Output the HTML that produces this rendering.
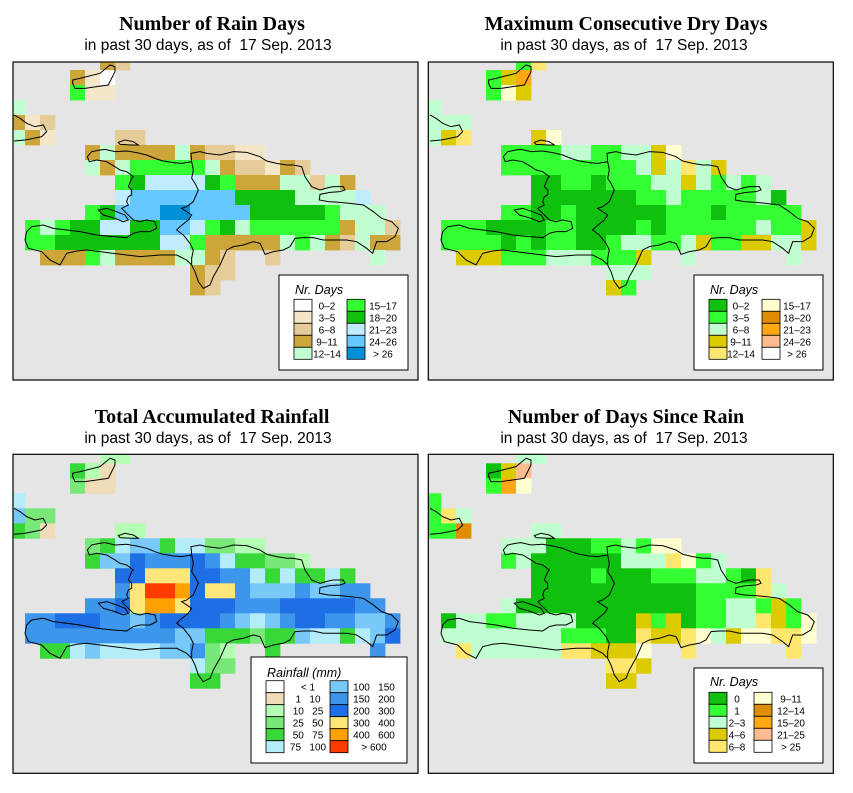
<!DOCTYPE html>
<html><head><meta charset="utf-8">
<style>
body{margin:0;background:#fff;}
svg{display:block;}
.t{font-family:"Liberation Serif",serif;font-weight:bold;font-size:20px;text-anchor:middle;}
.s{font-family:"Liberation Sans",sans-serif;font-size:15.5px;text-anchor:middle;white-space:pre;}
.lt{font-family:"Liberation Sans",sans-serif;font-style:italic;font-size:12.5px;}
.ll{font-family:"Liberation Sans",sans-serif;font-size:10px;}
</style></head>
<body>
<svg id="chart" width="853" height="793" viewBox="0 0 853 793" xmlns="http://www.w3.org/2000/svg">
<defs>
<clipPath id="c1"><rect x="13" y="62" width="405" height="318"/></clipPath>
<clipPath id="c2"><rect x="428.3" y="62" width="405" height="318"/></clipPath>
<clipPath id="c3"><rect x="13" y="454.3" width="405" height="319"/></clipPath>
<clipPath id="c4"><rect x="428.3" y="454.3" width="405" height="319"/></clipPath>
</defs>
<text class="t" x="212" y="30">Number of Rain Days</text>
<text class="s" x="208" y="50" xml:space="preserve">in past 30 days, as of  17 Sep. 2013</text>
<text class="t" x="626" y="30">Maximum Consecutive Dry Days</text>
<text class="s" x="624" y="50" xml:space="preserve">in past 30 days, as of  17 Sep. 2013</text>
<text class="t" x="212" y="423">Total Accumulated Rainfall</text>
<text class="s" x="208" y="443" xml:space="preserve">in past 30 days, as of  17 Sep. 2013</text>
<text class="t" x="626" y="423">Number of Days Since Rain</text>
<text class="s" x="624" y="443" xml:space="preserve">in past 30 days, as of  17 Sep. 2013</text>
<g id="panels"></g>
</svg>
<script>
const NS="http://www.w3.org/2000/svg";
// ---- data: class codes per grid row (columns c0..c25), '.' = no data ----
const rainDaysRows=["......32","....310","....511","4","312","431....22",".....343333432211",".....434555554322132",".......5677776533344243",".......78888888666644447",".....56888998888666665444",".5456677668875645555553442",".55666666677533333454324 33".replace(" ",""),"..33354333344 32..2......4".replace(" ",""),"............322","............32"];
const dryDaysRows=["......14","....137","....153","2","222","234....35",".....1111221122 35".replace(" ",""),".....111111111232423",".......0011011122321212",".......0000000112111112 0".replace(" ",""),".....11001000000111011111",".1110000110000101111112113",".1111010110012211231133223","..3331112221113..2......2","............222","............31"];
const rainfallRows=["......22","....421","....311","5","633","431....22",".....345664553322",".....466877787544332",".......8899988775454454",".......79bba899766676677",".....7789aa98887778888877",".7788877678888765678877667",".7777777777664443446554568","..4456555566732..4......7","............533","............44"];
const sinceRainRows=["......22","....038","....175","1","142","116....22",".....222000112155",".....120000002224512",".......0000100011122104",".......00000000000111142",".....20000000000001122131",".0221122220000313011224315",".2222222211100433452355445","..4222222443335..4......4","............443","............33"];
// ---- class labels ----
const rainDaysLabels=["0–2","3–5","6–8","9–11","12–14","15–17","18–20","21–23","24–26","> 26"];
const dryDaysLabels=["0–2","3–5","6–8","9–11","12–14","15–17","18–20","21–23","24–26","> 26"];
const rainfallLabels=["< 1","1   10","10   25","25   50","50   75","75   100","100   150","150   200","200   300","300   400","400   600","> 600"];
const sinceRainLabels=["0","1","2–3","4–6","6–8","9–11","12–14","15–20","21–25","> 25"];
const rainDaysColors=["#ffffff","#f5e6c8","#e6cc99","#cca638","#c0ffd0","#33ff33","#0fc00f","#c0ecff","#66c8ff","#0090d8"];
const dryDaysColors=["#0fc00f","#33ff33","#c0ffd0","#dccb00","#ffe66e","#ffffd0","#e08c00","#ffa814","#ffbc8c","#ffffff"];
const rainfallColors=["#ffffff","#f0dcb8","#b4ffb4","#78e878","#38d838","#b4ecf8","#78c8f8","#3c96ec","#1e6ee6","#ffe678","#ffa000","#ff3c00"];
const sinceRainColors=["#0fc00f","#33ff33","#c0ffd0","#dccb00","#ffe66e","#ffffd0","#e08c00","#ffa814","#ffbc8c","#ffffff"];

const coast="M262,305 L275,290 300,285 315,283 345,290 380,288 410,293 440,300 470,312 490,318 520,323 545,325 575,320 573,295 600,290 620,295 660,300 700,290 740,292 780,305 800,318 830,325 860,330 880,330 905,335 915,365 935,395 960,405 985,398 1000,395 1030,395 1035,405 1020,410 990,412 960,418 958,435 985,440 1020,442 1050,445 1090,450 1120,470 1145,490 1175,500 1195,520 1185,545 1160,560 1130,560 1118,595 1100,580 1070,560 1040,555 1000,555 970,555 940,548 910,548 885,550 870,575 850,585 820,590 795,598 785,575 780,565 760,560 730,570 700,575 680,585 660,630 640,665 630,690 610,700 595,680 585,650 575,630 560,615 530,600 480,600 420,605 380,600 340,595 300,590 260,585 230,588 200,595 180,630 150,615 125,590 85,580 75,555 80,530 95,515 130,510 160,520 200,525 240,530 290,540 340,545 380,548 400,535 420,530 450,530 470,520 465,500 440,495 420,500 400,495 385,480 365,460 385,450 380,440 385,425 395,420 395,405 385,395 395,370 400,365 380,350 360,345 345,335 320,320 290,315 268,320 Z "+
"M575,320 L580,345 575,370 585,385 595,405 580,440 560,455 545,460 560,470 575,480 565,495 540,515 530,525 550,540 570,565 580,585 575,610 575,630 "+
"M295,465 L320,460 350,470 375,480 385,495 370,500 345,490 310,480 Z "+
"M355,262 L375,255 400,260 415,270 395,270 360,268 Z "+
"M218,75 L240,70 260,65 300,55 330,30 345,35 345,50 335,70 325,90 290,95 255,100 225,100 218,85 Z "+
"M42,180 L60,190 80,205 105,215 130,210 140,230 125,245 100,250 75,255 42,258";

const panels=[
 {name:"rain-days",ox:0,oy:0,rows:rainDaysRows,colors:rainDaysColors,labels:rainDaysLabels,clip:"c1",fx:13,fy:62,
  leg:{x:279,y:275,w:129,h:95,title:"Nr. Days",tx:295,ty:294,sx:[294,347],sw:18,lx:[327,383],sy:299.3,n:5}},
 {name:"dry-days",ox:416,oy:0,rows:dryDaysRows,colors:dryDaysColors,labels:dryDaysLabels,clip:"c2",fx:428.3,fy:62,
  leg:{x:694,y:275,w:129,h:95,title:"Nr. Days",tx:710,ty:294,sx:[709,762],sw:18,lx:[741,797],sy:299.3,n:5}},
 {name:"rainfall",ox:0,oy:393.3,rows:rainfallRows,colors:rainfallColors,labels:rainfallLabels,clip:"c3",fx:13,fy:454.3,
  leg:{x:251,y:657,w:156,h:106,title:"Rainfall (mm)",tx:267,ty:677,sx:[266,330],sw:18,lx:[308,374],sy:680.7,n:6}},
 {name:"days-since-rain",ox:416,oy:393.3,rows:sinceRainRows,colors:sinceRainColors,labels:sinceRainLabels,clip:"c4",fx:428.3,fy:454.3,
  leg:{x:694,y:668,w:129,h:95,title:"Nr. Days",tx:710,ty:686,sx:[709,754],sw:18,lx:[737,791],sy:692.3,n:5}}
];
const CODES="0123456789ab";
function colX(p,c){return p.ox+10+15*c;}
function rowY(p,r){return p.oy+55+15*r;}
const root=document.getElementById("panels");
panels.forEach(p=>{
  const g=document.createElementNS(NS,"g");
  
  
  root.appendChild(g);
  const bg=document.createElementNS(NS,"rect");
  bg.setAttribute("x",p.fx);bg.setAttribute("y",p.fy);bg.setAttribute("width",405);bg.setAttribute("height",p.fy>400?319:318);
  bg.setAttribute("fill","#e5e5e5");
  
  
  g.appendChild(bg);
  const cg=document.createElementNS(NS,"g");
  cg.setAttribute("clip-path","url(#"+p.clip+")");
  
  
  g.appendChild(cg);
  p.rows.forEach((row,r)=>{
    for(let c=0;c<row.length;c++){
      const k=CODES.indexOf(row[c]);
      if(k<0)continue;
      const re=document.createElementNS(NS,"rect");
      re.setAttribute("x",colX(p,c));re.setAttribute("y",rowY(p,r));
      re.setAttribute("width",15.4);re.setAttribute("height",15.4);
      re.setAttribute("fill",p.colors[k]);
      
      
      cg.appendChild(re);
    }
  });
  const cp=document.createElementNS(NS,"path");
  cp.setAttribute("d",coast);cp.setAttribute("fill","none");cp.setAttribute("stroke","#000");
  cp.setAttribute("stroke-width","1");cp.setAttribute("vector-effect","non-scaling-stroke");
  cp.setAttribute("transform","translate("+p.ox+","+(p.oy+55)+") scale(0.33333)");
  
  
  cg.appendChild(cp);
  const fr=document.createElementNS(NS,"rect");
  fr.setAttribute("x",p.fx);fr.setAttribute("y",p.fy);fr.setAttribute("width",405);fr.setAttribute("height",p.fy>400?319:318);
  fr.setAttribute("fill","none");fr.setAttribute("stroke","#000");fr.setAttribute("stroke-width","1.2");
  
  
  g.appendChild(fr);
  const L=p.leg;
  const lg=document.createElementNS(NS,"g");
  
  
  g.appendChild(lg);
  const lb=document.createElementNS(NS,"rect");
  lb.setAttribute("x",L.x);lb.setAttribute("y",L.y);lb.setAttribute("width",L.w);lb.setAttribute("height",L.h);
  lb.setAttribute("fill","#fff");lb.setAttribute("stroke","#000");lb.setAttribute("stroke-width","1");
  
  
  lg.appendChild(lb);
  const lt=document.createElementNS(NS,"text");
  lt.setAttribute("x",L.tx);lt.setAttribute("y",L.ty);lt.setAttribute("class","lt");lt.textContent=L.title;
  
  
  lg.appendChild(lt);
  p.labels.forEach((lab,i)=>{
    const col=Math.floor(i/L.n), rr=i%L.n;
    const y=L.sy+12*rr;
    const sw=document.createElementNS(NS,"rect");
    sw.setAttribute("x",L.sx[col]);sw.setAttribute("y",y);sw.setAttribute("width",L.sw);sw.setAttribute("height",12);
    sw.setAttribute("fill",p.colors[i]);sw.setAttribute("stroke","#000");sw.setAttribute("stroke-width","0.8");
    
    
    lg.appendChild(sw);
    const tx=document.createElementNS(NS,"text");
    tx.setAttribute("x",L.lx[col]);tx.setAttribute("y",y+10);tx.setAttribute("class","ll");
    tx.setAttribute("text-anchor","middle");tx.style.whiteSpace="pre";
    tx.textContent=lab;
    
    
    lg.appendChild(tx);
  });
});
</script>
</body></html>
